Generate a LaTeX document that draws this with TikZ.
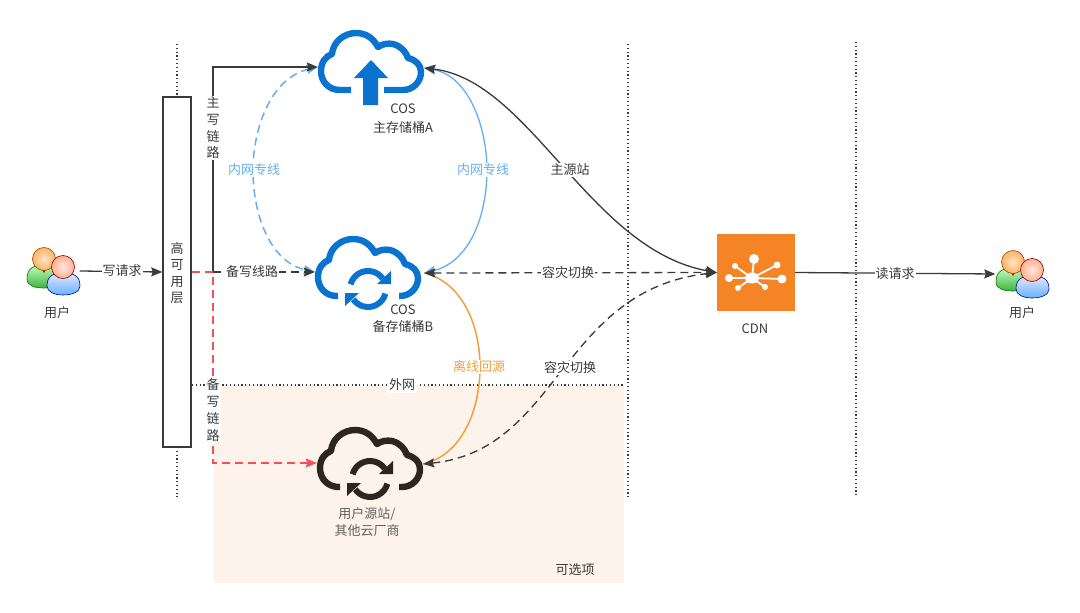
\documentclass[tikz,border=0pt]{standalone}
\usepackage{fontspec}
\setmainfont{Noto Sans CJK SC}
\usetikzlibrary{arrows.meta,shapes.geometric,calc}
\definecolor{ink}{HTML}{3A3A3A}
\definecolor{cosblue}{HTML}{0A72CF}
\definecolor{lblue}{HTML}{66AEEE}
\definecolor{orangeL}{HTML}{F0A040}
\definecolor{redL}{HTML}{F4505A}
\definecolor{cdnor}{HTML}{F58426}
\definecolor{pale}{HTML}{FDF3EA}
\definecolor{blackc}{HTML}{2D2620}
\tikzset{
  lab/.style={font=\fontsize{13}{17}\selectfont,text=ink,align=center,inner sep=1pt},
  onwhite/.style={lab,fill=white},
  tip/.style={-{Stealth[length=11pt,width=9pt,inset=1.5pt]}},
  tips/.style={{Stealth[length=11pt,width=9pt,inset=1.5pt]}-{Stealth[length=11pt,width=9pt,inset=1.5pt]}},
  conn/.style={line width=1.3pt,draw=ink},
  dash7/.style={dash pattern=on 8pt off 5pt},
  dotline/.style={draw=ink,line width=1.1pt,dash pattern=on 1.2pt off 2.6pt},
  anchorbox/.style={minimum width=106pt,minimum height=66pt,inner sep=0pt},
}
% cloud outline; #1 offset from cloud A, #2 colour, #3 left end, #4 right end of the bottom stroke
\newcommand{\cloudout}[4]{%
 \begin{scope}[shift={(#1)}]
 \draw[#2,line width=6.4pt,line join=round]
 (#3,90) -- (340,90) .. controls (328,90) and (321,81) .. (321,71)
 .. controls (321,62) and (326,56) .. (332,54)
 .. controls (333,42) and (344,33) .. (356,33)
 .. controls (366,33) and (373,38) .. (378,47)
 .. controls (382,44) and (388,43) .. (393,44)
 .. controls (401,46) and (406,52) .. (408,58)
 .. controls (416,60) and (421,65) .. (421,72)
 .. controls (421,82) and (413,90) .. (403,90) -- (#4,90);
 \end{scope}}
\newcommand{\refreshicon}[3]{%
 \begin{scope}[shift={(#1)},x=1pt,y=1pt]
 \draw[#2,line width=#3] (165:18pt) arc[start angle=165,end angle=35,radius=18pt];
 \fill[#2] (9,5) -- (23,5) -- (23,18) -- cycle;
 \draw[#2,line width=#3] (-15:18pt) arc[start angle=-15,end angle=-145,radius=18pt];
 \fill[#2] (-9,-4) -- (-23,-4) -- (-23,-17) -- cycle;
 \end{scope}}
\newcommand{\usericon}[1]{%
 \begin{scope}[shift={(#1)}]
 \shade[top color=green!25!white,bottom color=green!60!black!75,draw=green!45!black,line width=.6pt]
   (27,279) .. controls (27,268) and (34,265) .. (44,265) .. controls (54,265) and (60,268) .. (60,279)
   .. controls (60,286) and (52,288) .. (44,288) .. controls (35,288) and (27,286) .. (27,279) -- cycle;
 \fill[red!80!black] (41,268) -- (47,268) -- (44,273) -- cycle;
 \shade[inner color=orange!22!white,outer color=orange!60!white,draw=orange!60!black,line width=.6pt] (44,259) circle[radius=11.5pt];
 \shade[top color=blue!10!white,bottom color=blue!50!cyan!60,draw=blue!50!black,line width=.6pt]
   (47,286) .. controls (47,276) and (53,273) .. (63,273) .. controls (74,273) and (80,276) .. (80,286)
   .. controls (80,292) and (72,295) .. (63,295) .. controls (55,295) and (47,292) .. (47,286) -- cycle;
 \shade[inner color=red!10!white,outer color=red!35!orange!45,draw=red!55!black,line width=.6pt] (63,267) circle[radius=11.5pt];
 \end{scope}}
\begin{document}
\begin{tikzpicture}[x=1pt,y=-1pt]
\useasboundingbox (0,0) rectangle (1080,613);
\fill[white] (0,0) rectangle (1080,613);
% optional zone
\fill[pale] (214,385) rectangle (624,583);
\node[lab] (opt) at (575,570) {可选项};
% dotted lines
\draw[dotline] (177,44) -- (177,97);
\draw[dotline] (177,447) -- (177,497);
\draw[dotline] (628,44) -- (628,498);
\draw[dotline] (856,42) -- (856,495);
\draw[dotline] (192,385) -- (625,385);
\node[lab,fill=white,inner sep=2pt] (net) at (402,385) {外网};
% clouds
\cloudout{0,0}{cosblue}{351}{384}
\fill[cosblue] (363,105) -- (363,78) -- (354,78) -- (371,60) -- (388,78) -- (378,78) -- (378,105) -- cycle;
\cloudout{-3,206}{cosblue}{341}{402}
\refreshicon{368,289}{cosblue}{6pt}
\cloudout{-1,397}{blackc}{341}{400}
\refreshicon{370,479}{blackc}{6pt}
\node[anchorbox] (cosA) at (371,67) {};
\node[anchorbox] (cosB) at (368,272) {};
\node[anchorbox] (cosC) at (370,463) {};
\node[lab] (labA) at (403,119) {COS\\[2pt]主存储桶A};
\node[lab] (labB) at (403,319) {COS\\备存储桶B};
\node[lab,text=ink!80] (labC) at (367,522) {用户源站/\\其他云厂商};
% users
\usericon{0,0}
\usericon{969,3}
\node[minimum width=53pt,minimum height=47pt,inner sep=0pt] (u1) at (53,271) {};
\node[minimum width=53pt,minimum height=47pt,inner sep=0pt] (u2) at (1022,274) {};
\node[lab] (u1l) at (57,313) {用户};
\node[lab] (u2l) at (1022,313) {用户};
% HA box
\node[draw=ink,line width=1.4pt,fill=white,minimum width=28pt,minimum height=350pt,inner sep=0pt] (ha) at (177,272) {};
\node[lab,font=\fontsize{13}{16.5}\selectfont] (hal) at (177,273) {高\\可\\用\\层};
% CDN
\node[fill=cdnor,minimum width=78pt,minimum height=77pt,inner sep=0pt] (cdn) at (756,272.5) {};
\begin{scope}
\draw[white,line width=1.8pt] (752,278) -- (754,259) (752,278) -- (782,279) (752,278) -- (729,278) (752,278) -- (735,266) (752,278) -- (777,265) (752,278) -- (738,288) (752,278) -- (765,287);
\fill[white] (752,278) ellipse[x radius=7pt,y radius=5.5pt];
\fill[white] (754,259) circle[radius=5pt] (782,279) circle[radius=4.5pt] (729,278) circle[radius=4pt] (735,266) circle[radius=3pt] (777,265) circle[radius=3.5pt] (738,288) circle[radius=3pt] (765,287) circle[radius=3pt];
\end{scope}
\node[lab] (cdnl) at (755,329) {CDN};
% ports
\coordinate (aL) at (cosA.west);
\coordinate (aR) at ([yshift=-1pt]cosA.east);
\coordinate (bL) at (cosB.west);
\coordinate (bR) at ([xshift=3pt,yshift=-1pt]cosB.east);
\coordinate (cL) at (cosC.west);
\coordinate (cR) at ([yshift=-1pt]cosC.east);
\coordinate (cdnL) at (cdn.west);
\coordinate (haR) at (ha.east);
\coordinate (junc) at (213,272);
% curves
\draw[lblue,line width=1.5pt,dash pattern=on 8pt off 5pt,tips] (aL) .. controls (270,78) and (253,130) .. (253,170) .. controls (253,215) and (270,262) .. (bL);
\draw[lblue,line width=1.3pt,tips] (aR) .. controls (470,76) and (487,130) .. (487,170) .. controls (487,215) and (470,262) .. (bR);
\draw[orangeL,line width=1.5pt] (bR) .. controls (462,282) and (480,325) .. (480,367) .. controls (480,410) and (462,455) .. (cR);
\draw[conn,tips] (aR) .. controls (530,80) and (590,250) .. (cdnL);
\draw[conn,dash7,tips] (bR) -- (cdnL);
\draw[conn,dash7,tips] (cR) .. controls (560,450) and (560,290) .. (cdnL);
% left links
\draw[conn,dash7,tip] (junc) -- (bL);
\draw[conn,tip] (junc) -- (213,67) -- (aL);
\draw[redL,line width=1.5pt,dash7,tip] (haR) -- (junc) -- (213,463) -- (cL);
\draw[conn,tip] (u1.east) -- (ha.west);
\draw[conn,tip] (cdn.east) -- (u2.west);
% labels
\node[onwhite] (l1) at (122,271) {写请求};
\node[onwhite,font=\fontsize{13}{16.7}\selectfont] (l2) at (213,128) {主\\写\\链\\路};
\node[onwhite] (l3) at (252,272) {备写线路};
\node[onwhite,font=\fontsize{13}{16.7}\selectfont] (l4) at (213,410) {备\\写\\链\\路};
\node[onwhite,text=lblue] (l5) at (254,170) {内网专线};
\node[onwhite,text=lblue] (l6) at (483,170) {内网专线};
\node[onwhite] (l7) at (570,170) {主源站};
\node[onwhite] (l8) at (568,273) {容灾切换};
\node[onwhite,text=orangeL] (l9) at (479,367) {离线回源};
\node[onwhite] (l10) at (570,368) {容灾切换};
\node[onwhite] (l11) at (895,274) {读请求};
\end{tikzpicture}
\end{document}
